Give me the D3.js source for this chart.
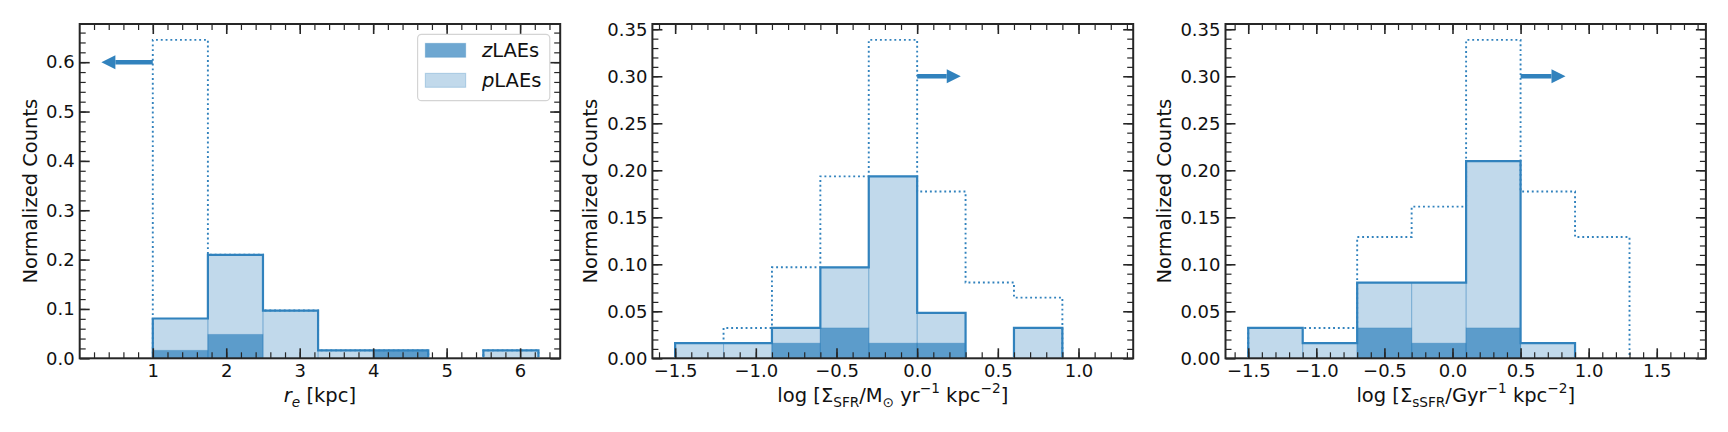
<!DOCTYPE html>
<html><head><meta charset="utf-8">
<script src="https://cdn.jsdelivr.net/npm/d3@7"></script>
<style>body{margin:0;background:#fff}svg{display:block}</style>
</head><body><svg id="c" width="1728" height="432"></svg>
<script>
// ---------- DATA ----------
const reEdges   = [1, 1.75, 2.5, 3.25, 4, 4.75, 5.5, 6.25];
const reAll     = [0.0806, 0.2097, 0.0968, 0.0161, 0.0161, 0, 0.0161];
const reZ       = [0.0161, 0.0484, 0, 0, 0.0161, 0, 0];
const reLimits  = [0.6452, 0.2097, 0.0968, 0.0161, 0.0161, 0, 0.0161];
const reArrow   = [1.0, 0.30, 0.60];          // from x, to x, at y

const sfrEdges  = [-1.5, -1.2, -0.9, -0.6, -0.3, 0, 0.3, 0.6, 0.9];
const sfrAll    = [0.0161, 0.0161, 0.0323, 0.0968, 0.1935, 0.0484, 0, 0.0323];
const sfrZ      = [0, 0, 0.0161, 0.0323, 0.0161, 0.0161, 0, 0];
const sfrLimits = [0.0161, 0.0323, 0.0968, 0.1935, 0.3387, 0.1774, 0.0806, 0.0645];
const sfrArrow  = [0.0, 0.27, 0.30];

const ssfrEdges  = [-1.5, -1.1, -0.7, -0.3, 0.1, 0.5, 0.9, 1.3];
const ssfrAll    = [0.0323, 0.0161, 0.0806, 0.0806, 0.2097, 0.0161, 0];
const ssfrZ      = [0, 0, 0.0323, 0.0161, 0.0323, 0, 0];
const ssfrLimits = [0.0323, 0.0323, 0.1290, 0.1613, 0.3387, 0.1774, 0.1290];
const ssfrArrow  = [0.5, 0.83, 0.30];

const reXTicks = [1, 2, 3, 4, 5, 6];
const reXTickLabels = ["1", "2", "3", "4", "5", "6"];
const reYTicks = [0, 0.1, 0.2, 0.3, 0.4, 0.5, 0.6];
const reYTickLabels = ["0.0", "0.1", "0.2", "0.3", "0.4", "0.5", "0.6"];
const sfrXTicks = [-1.5, -1.0, -0.5, 0, 0.5, 1.0];
const sfrXTickLabels = ["\u22121.5", "\u22121.0", "\u22120.5", "0.0", "0.5", "1.0"];
const ssfrXTicks = [-1.5, -1.0, -0.5, 0, 0.5, 1.0, 1.5];
const ssfrXTickLabels = ["\u22121.5", "\u22121.0", "\u22120.5", "0.0", "0.5", "1.0", "1.5"];
const cYTicks = [0, 0.05, 0.10, 0.15, 0.20, 0.25, 0.30, 0.35];
const cYTickLabels = ["0.00", "0.05", "0.10", "0.15", "0.20", "0.25", "0.30", "0.35"];

const legendLabels = [["z", "LAEs"], ["p", "LAEs"]];

// ---------- LAYOUT / STYLE ----------
const TOP = 24, BOT = 358.3;
const BLUE = "#3182bd", INK = "#262626", TXT = "#111";
const FONT = "DejaVu Sans, sans-serif";

const panels = [
  { left: 79.7, right: 560.2, edges: reEdges, all: reAll, z: reZ, lim: reLimits, arrow: reArrow,
    xDomain: [0.005, 6.546], yDomain: [0, 0.6774],
    xMajor: reXTicks, xLab: reXTickLabels, xMinor: d3.range(0.2, 6.5, 0.2),
    yMajor: reYTicks, yLab: reYTickLabels, yMinor: d3.range(0.02, 0.67, 0.02),
    yLabelOff: 43.2, legend: true,
    xlabel: [{t: "r", it: true}, {t: "e", it: true, sub: true}, {t: " [kpc]"}] },
  { left: 652.4, right: 1133.2, edges: sfrEdges, all: sfrAll, z: sfrZ, lim: sfrLimits, arrow: sfrArrow,
    xDomain: [-1.641, 1.339], yDomain: [0, 0.3556],
    xMajor: sfrXTicks, xLab: sfrXTickLabels, xMinor: d3.range(-1.6, 1.31, 0.1),
    yMajor: cYTicks, yLab: cYTickLabels, yMinor: d3.range(0.01, 0.355, 0.01),
    yLabelOff: 55.4,
    xlabel: [{t: "log [\u03A3"}, {t: "SFR", sub: true}, {t: "/M"}, {t: "\u2299", sub: true},
             {t: " yr"}, {t: "\u22121", sup: true}, {t: " kpc"}, {t: "\u22122", sup: true}, {t: "]"}] },
  { left: 1225.5, right: 1705.9, edges: ssfrEdges, all: ssfrAll, z: ssfrZ, lim: ssfrLimits, arrow: ssfrArrow,
    xDomain: [-1.667, 1.861], yDomain: [0, 0.3556],
    xMajor: ssfrXTicks, xLab: ssfrXTickLabels, xMinor: d3.range(-1.6, 1.81, 0.1),
    yMajor: cYTicks, yLab: cYTickLabels, yMinor: d3.range(0.01, 0.355, 0.01),
    yLabelOff: 55.0,
    xlabel: [{t: "log [\u03A3"}, {t: "sSFR", sub: true}, {t: "/Gyr"}, {t: "\u22121", sup: true},
             {t: " kpc"}, {t: "\u22122", sup: true}, {t: "]"}] }
];

const svg = d3.select("#c");
const defs = svg.append("defs");

function richText(sel, parts, size) {
  let cur = 0;
  parts.forEach(p => {
    const target = p.sub ? size * 0.26 : p.sup ? -size * 0.42 : 0;
    const ts = sel.append("tspan").text(p.t).attr("dy", target - cur);
    cur = target;
    if (p.sub || p.sup) ts.attr("font-size", size * 0.7);
    if (p.it) ts.attr("font-style", "italic");
  });
}

function styleAxis(g, w) {
  g.select(".domain").remove();
  g.selectAll(".tick line").attr("stroke", INK).attr("stroke-width", w);
  g.selectAll("text").attr("font-size", 18).attr("font-family", FONT).attr("fill", TXT);
}

panels.forEach((p, pi) => {
  const x = d3.scaleLinear().domain(p.xDomain).range([p.left, p.right]);
  const y = d3.scaleLinear().domain(p.yDomain).range([BOT, TOP]);
  const g = svg.append("g");
  const clipId = "clip" + pi;
  defs.append("clipPath").attr("id", clipId).append("rect")
    .attr("x", p.left).attr("y", TOP).attr("width", p.right - p.left).attr("height", BOT - TOP - 1.2);
  const bins = p.all.map((v, i) => ({x0: p.edges[i], x1: p.edges[i + 1], v, z: p.z[i]}));

  // light (all) bars
  g.append("g").selectAll("rect").data(bins.filter(b => b.v > 0)).join("rect")
    .attr("x", b => x(b.x0)).attr("width", b => x(b.x1) - x(b.x0))
    .attr("y", b => y(b.v)).attr("height", b => y(0) - y(b.v))
    .attr("fill", BLUE).attr("fill-opacity", 0.3)
    .attr("stroke", BLUE).attr("stroke-opacity", 0.3).attr("stroke-width", 1);
  // dark (zLAE) bars
  g.append("g").selectAll("rect").data(bins.filter(b => b.z > 0)).join("rect")
    .attr("x", b => x(b.x0)).attr("width", b => x(b.x1) - x(b.x0))
    .attr("y", b => y(b.z)).attr("height", b => y(0) - y(b.z))
    .attr("fill", BLUE).attr("fill-opacity", 0.7)
    .attr("stroke", BLUE).attr("stroke-opacity", 0.3).attr("stroke-width", 1);

  const stepPts = vals => {
    const pts = [[p.edges[0], 0]];
    vals.forEach((v, i) => { pts.push([p.edges[i], v]); pts.push([p.edges[i + 1], v]); });
    pts.push([p.edges[vals.length], 0]);
    return pts;
  };
  const line = d3.line().x(d => x(d[0])).y(d => y(d[1]));
  const steps = g.append("g").attr("clip-path", `url(#${clipId})`);
  // dotted limits histogram
  steps.append("path").attr("d", line(stepPts(p.lim))).attr("fill", "none")
    .attr("stroke", BLUE).attr("stroke-width", 1.9).attr("stroke-dasharray", "1.9,2.9");
  // solid outline
  steps.append("path").attr("d", line(stepPts(p.all))).attr("fill", "none")
    .attr("stroke", BLUE).attr("stroke-width", 2.2).attr("stroke-linejoin", "miter");

  // arrow
  const ax0 = x(p.arrow[0]), ax1 = x(p.arrow[1]), ay = y(p.arrow[2]);
  const dir = Math.sign(ax1 - ax0), hl = 14, hw = 7;
  g.append("line").attr("x1", ax0).attr("x2", ax1 - dir * hl).attr("y1", ay).attr("y2", ay)
    .attr("stroke", BLUE).attr("stroke-width", 4.5);
  g.append("path").attr("d", `M${ax1},${ay}L${ax1 - dir * hl},${ay - hw}L${ax1 - dir * hl},${ay + hw}Z`)
    .attr("fill", BLUE);

  // axes (ticks inward on all sides)
  const fmtMaj = arr => (d, i) => arr[i];
  styleAxis(g.append("g").attr("transform", `translate(0,${BOT})`)
    .call(d3.axisBottom(x).tickValues(p.xMajor).tickFormat(fmtMaj(p.xLab)).tickSize(-10).tickPadding(6)), 1.6);
  styleAxis(g.append("g").attr("transform", `translate(0,${BOT})`)
    .call(d3.axisBottom(x).tickValues(p.xMinor).tickFormat("").tickSize(-6)), 1.2);
  styleAxis(g.append("g").attr("transform", `translate(0,${TOP})`)
    .call(d3.axisTop(x).tickValues(p.xMajor).tickFormat("").tickSize(-10)), 1.6);
  styleAxis(g.append("g").attr("transform", `translate(0,${TOP})`)
    .call(d3.axisTop(x).tickValues(p.xMinor).tickFormat("").tickSize(-6)), 1.2);
  styleAxis(g.append("g").attr("transform", `translate(${p.left},0)`)
    .call(d3.axisLeft(y).tickValues(p.yMajor).tickFormat(fmtMaj(p.yLab)).tickSize(-10).tickPadding(5)), 1.6);
  styleAxis(g.append("g").attr("transform", `translate(${p.left},0)`)
    .call(d3.axisLeft(y).tickValues(p.yMinor).tickFormat("").tickSize(-6)), 1.2);
  styleAxis(g.append("g").attr("transform", `translate(${p.right},0)`)
    .call(d3.axisRight(y).tickValues(p.yMajor).tickFormat("").tickSize(-10)), 1.6);
  styleAxis(g.append("g").attr("transform", `translate(${p.right},0)`)
    .call(d3.axisRight(y).tickValues(p.yMinor).tickFormat("").tickSize(-6)), 1.2);

  // frame
  g.append("rect").attr("x", p.left).attr("y", TOP).attr("width", p.right - p.left).attr("height", BOT - TOP)
    .attr("fill", "none").attr("stroke", INK).attr("stroke-width", 2);

  // labels
  const xl = g.append("text").attr("x", (p.left + p.right) / 2).attr("y", 401.5)
    .attr("text-anchor", "middle").attr("font-family", FONT).attr("font-size", 19.5).attr("fill", TXT);
  richText(xl, p.xlabel, 19.5);
  g.append("text").attr("transform", `translate(${p.left - p.yLabelOff},${(TOP + BOT) / 2}) rotate(-90)`)
    .attr("text-anchor", "middle").attr("font-family", FONT).attr("font-size", 19.5).attr("fill", TXT)
    .text("Normalized Counts");

  if (p.legend) {
    const lx = p.right - 10.4 - 132.2, ly = TOP + 10.3;
    const lg = g.append("g");
    lg.append("rect").attr("x", lx).attr("y", ly).attr("width", 132.2).attr("height", 66.4)
      .attr("rx", 4).attr("fill", "#fff").attr("fill-opacity", 0.8)
      .attr("stroke", "#d4d4d4").attr("stroke-width", 1.2);
    const ops = [0.7, 0.3];
    legendLabels.forEach((lab, i) => {
      const ry = ly + 9 + i * 30;
      lg.append("rect").attr("x", lx + 7.7).attr("y", ry).attr("width", 40.4).attr("height", 14)
        .attr("fill", BLUE).attr("fill-opacity", ops[i]).attr("stroke", BLUE).attr("stroke-opacity", 0.3);
      const t = lg.append("text").attr("x", lx + 64.3).attr("y", ry + 13.6)
        .attr("font-family", FONT).attr("font-size", 19.5).attr("fill", TXT);
      t.append("tspan").attr("font-style", "italic").text(lab[0]);
      t.append("tspan").text(lab[1]);
    });
  }
});
</script></body></html>
